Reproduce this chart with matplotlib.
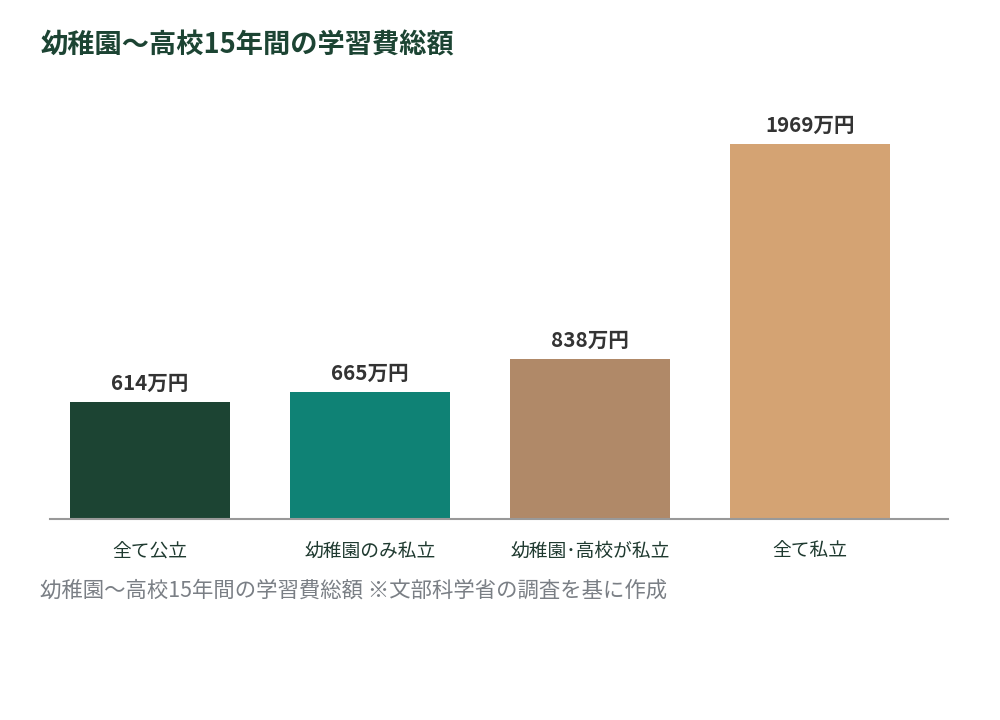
import matplotlib
matplotlib.use('Agg')
from matplotlib import pyplot as plt

plt.rcParams['font.family'] = ['Noto Sans CJK JP', 'DejaVu Sans']

categories = ['全て公立', '幼稚園のみ私立', '幼稚園･高校が私立', '全て私立']
values = [614, 665, 838, 1969]
labels = ['614万円', '665万円', '838万円', '1969万円']
colors = ['#1c4433', '#0f8275', '#b08968', '#d4a373']

title = '幼稚園～高校15年間の学習費総額'
caption = '幼稚園～高校15年間の学習費総額 ※文部科学省の調査を基に作成'

W, H = 1000, 720
fig = plt.figure(figsize=(10, 7.2), dpi=100)

# 軸の位置（ピクセル換算）
left, right, top, base = 50, 948, 90, 519
ax = fig.add_axes([left / W, 1 - base / H, (right - left) / W, (base - top) / H])

x = list(range(len(categories)))
ax.bar(x, values, width=160 / 220, color=colors)

ax.set_xlim((left - 150) / 220, (right - 150) / 220)
ax.set_ylim(0, (base - top) / 375 * 1969)

for xi, v, lab in zip(x, values, labels):
    ax.annotate(lab, (xi, v), xytext=(0, 19), textcoords='offset pixels',
                ha='center', va='center', fontsize=14.8, fontweight='bold', color='#333333')

for s in ['top', 'right', 'left']:
    ax.spines[s].set_visible(False)
ax.spines['bottom'].set_color('#999999')
ax.spines['bottom'].set_linewidth(1.5)
ax.set_yticks([])
ax.set_xticks(x)
ax.set_xticklabels(categories, fontsize=13.5, color='#1f3a30')
ax.tick_params(axis='x', length=0, pad=16)

fig.text(40 / W, 1 - 45 / H, title, fontsize=19.6, fontweight='bold', color='#1c4433',
         ha='left', va='center')
fig.text(40 / W, 1 - 591 / H, caption, fontsize=15.4, color='#7a7f85', ha='left', va='center')

fig.savefig('out.png', dpi=100, facecolor='white')
